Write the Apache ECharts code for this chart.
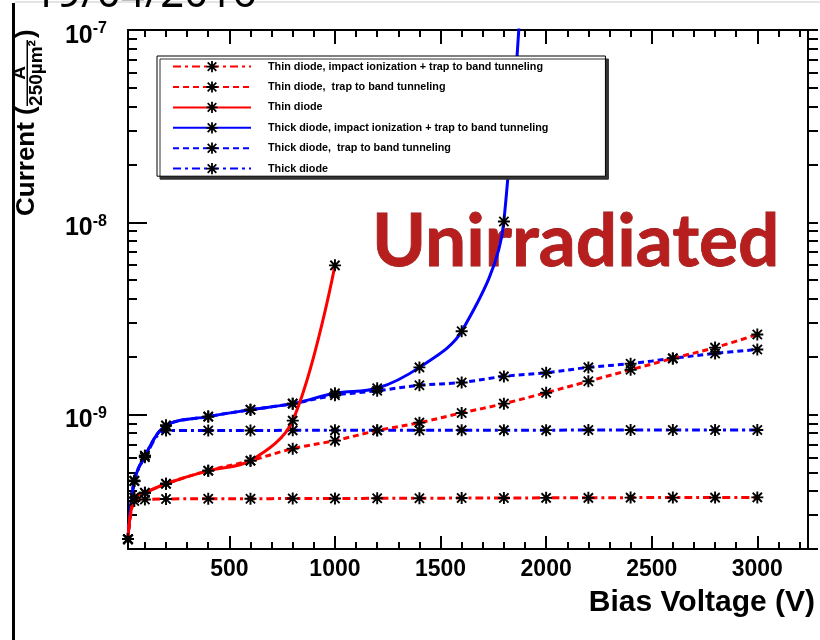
<!DOCTYPE html>
<html>
<head>
<meta charset="utf-8">
<script src="https://cdn.jsdelivr.net/npm/echarts@6/dist/echarts.min.js"></script>
<style>
  html, body { margin: 0; padding: 0; background: #fff; }
  #chart { width: 820px; height: 640px; }
</style>
</head>
<body>
<div id="chart"></div>
<script>
// bias voltage (V) of the simulated points
const volt = [20, 50, 100, 200, 400, 600, 800, 1000, 1200, 1400, 1600, 1800, 2000, 2200, 2400, 2600, 2800, 3000];

// current (A / 250um^2)
const thinIITTB = [2.25e-10, 3.55e-10, 3.62e-10, 3.64e-10, 3.65e-10, 3.65e-10, 3.66e-10, 3.66e-10, 3.67e-10,
                   3.67e-10, 3.68e-10, 3.68e-10, 3.69e-10, 3.69e-10, 3.7e-10, 3.7e-10, 3.7e-10, 3.71e-10];
const thinTTB = [2.25e-10, 3.7e-10, 3.92e-10, 4.37e-10, 5.11e-10, 5.76e-10, 6.65e-10, 7.32e-10, 8.26e-10,
                 9.08e-10, 1.02e-9, 1.14e-9, 1.30e-9, 1.49e-9, 1.71e-9, 1.96e-9, 2.23e-9, 2.61e-9];
const thinDiode = [2.25e-10, 3.7e-10, 3.92e-10, 4.37e-10, 5.11e-10, 5.76e-10, 9.3e-10, 5.97e-9];
// last point is off the top of the plot
const thickIITTB = [2.25e-10, 4.53e-10, 6.11e-10, 8.77e-10, 9.76e-10, 1.06e-9, 1.14e-9, 1.29e-9, 1.37e-9,
                    1.76e-9, 2.71e-9, 1.01e-8, 1e-4];
const thickTTB = [2.25e-10, 4.53e-10, 6.11e-10, 8.77e-10, 9.76e-10, 1.06e-9, 1.14e-9, 1.26e-9, 1.33e-9,
                  1.42e-9, 1.47e-9, 1.58e-9, 1.65e-9, 1.76e-9, 1.84e-9, 1.96e-9, 2.08e-9, 2.18e-9];
const thickDiode = [2.25e-10, 4.5e-10, 6.0e-10, 8.26e-10, 8.27e-10, 8.27e-10, 8.28e-10, 8.28e-10, 8.29e-10,
                    8.29e-10, 8.3e-10, 8.3e-10, 8.3e-10, 8.31e-10, 8.31e-10, 8.32e-10, 8.32e-10, 8.32e-10];

const names = [
  'Thin diode, impact ionization + trap to band tunneling',
  'Thin diode,  trap to band tunneling',
  'Thin diode',
  'Thick diode, impact ionization + trap to band tunneling',
  'Thick diode,  trap to band tunneling',
  'Thick diode'
];

// ticks
const xMajorTicks = [500, 1000, 1500, 2000, 2500, 3000];
const xMinorTicks = [100, 200, 300, 400, 600, 700, 800, 900, 1100, 1200, 1300, 1400, 1600, 1700, 1800, 1900,
                     2100, 2200, 2300, 2400, 2600, 2700, 2800, 2900, 3100, 3200];
const yMajorTicks = [1e-9, 1e-8, 1e-7];
const yMinorTicks = [2e-10, 3e-10, 4e-10, 5e-10, 6e-10, 7e-10, 8e-10, 9e-10,
                     2e-9, 3e-9, 4e-9, 5e-9, 6e-9, 7e-9, 8e-9, 9e-9,
                     2e-8, 3e-8, 4e-8, 5e-8, 6e-8, 7e-8, 8e-8, 9e-8];

const FONT = '"Liberation Sans", Arial, sans-serif';
// asterisk marker
const STAR = 'path://M0 4.2H10V5.8H0Z M4.2 0H5.8V10H4.2Z M0.6 1.7L1.7 0.6L9.4 8.3L8.3 9.4Z M8.3 0.6L9.4 1.7L1.7 9.4L0.6 8.3Z';

function pairs(vals) {
  return vals.map((v, i) => [volt[i], v]);
}

function mkSeries(idx, vals, color, dash, z) {
  return {
    name: names[idx],
    type: 'line',
    data: pairs(vals),
    smooth: 0.35,
    symbol: STAR,
    symbolSize: 12,
    showAllSymbol: true,
    z: z,
    itemStyle: { color: '#000' },
    lineStyle: { color: color, width: 3, type: dash }
  };
}

const DASH = [6, 4];
const DASHDOT = [8, 4, 3, 4];

function xAx(pos, ticks, len, line, labels) {
  return {
    type: 'value', position: pos, min: 20, max: 3240,
    axisLine: { show: line, onZero: false, lineStyle: { color: '#000', width: 2 } },
    axisTick: { show: true, inside: true, length: len, customValues: ticks, lineStyle: { color: '#000', width: 2 } },
    axisLabel: labels ? {
      show: true, customValues: xMajorTicks, margin: 9,
      formatter: v => String(v),
      color: '#000', fontFamily: FONT, fontWeight: 'bold', fontSize: 23
    } : { show: false },
    splitLine: { show: false }
  };
}

function yAx(pos, ticks, len, inside, line, labels) {
  return {
    type: 'log', position: pos, min: 2e-10, max: 1e-7, offset: 0,
    axisLine: { show: line, lineStyle: { color: '#000', width: 2 } },
    axisTick: { show: true, inside: inside, length: len, customValues: ticks, lineStyle: { color: '#000', width: 2 } },
    axisLabel: labels ? {
      show: true, customValues: yMajorTicks, margin: 21, padding: [12, 0, 0, 0],
      formatter: function (v) {
        return '{b|10}{s|' + Math.round(Math.log10(v)) + '}';
      },
      rich: {
        b: { fontFamily: FONT, fontWeight: 'bold', fontSize: 25, lineHeight: 30, color: '#000' },
        s: { fontFamily: FONT, fontWeight: 'bold', fontSize: 16, lineHeight: 16, color: '#000', verticalAlign: 'top' }
      }
    } : { show: false },
    splitLine: { show: false }
  };
}

const chart = echarts.init(document.getElementById('chart'));
chart.setOption({
  animation: false,
  backgroundColor: '#fff',
  grid: { left: 128, right: 12, top: 30, bottom: 91 },
  xAxis: [
    Object.assign(xAx('bottom', xMajorTicks, 13, true, true), {
      name: 'Bias Voltage (V)', nameLocation: 'end', nameGap: 7,
      nameTextStyle: { fontFamily: FONT, fontWeight: 'bold', fontSize: 30, color: '#000',
        align: 'right', verticalAlign: 'top', padding: [39, 0, 0, 0] }
    }),
    xAx('bottom', xMinorTicks, 7, false, false),
    xAx('top', xMajorTicks, 14, true, false),
    xAx('top', xMinorTicks, 7, false, false)
  ],
  yAxis: [
    yAx('left', yMajorTicks, 19, true, true, true),
    yAx('left', yMinorTicks, 9, true, false, false),
    yAx('right', yMajorTicks, 10, false, true, false),
    yAx('right', yMinorTicks, 10, false, false, false)
  ],
  legend: {
    orient: 'vertical', left: 157, top: 56,
    data: names,
    selectedMode: false,
    itemWidth: 78, itemHeight: 14, itemGap: 9.2,
    padding: [5, 57, 2, 15],
    backgroundColor: '#fff', borderColor: '#000', borderWidth: 1,
    shadowColor: '#333', shadowBlur: 0, shadowOffsetX: 3, shadowOffsetY: 3,
    textStyle: { fontFamily: FONT, fontWeight: 'bold', fontSize: 10.8, color: '#000', padding: [0, 0, 0, 12] }
  },
  graphic: [
    { type: 'rect', shape: { x: 12, y: 3, width: 3, height: 640 }, style: { fill: '#000' }, z: 10 },
    { type: 'rect', shape: { x: 15, y: 1, width: 805, height: 2 }, style: { fill: '#e4e4e4' }, z: 10 },
    { type: 'text', x: 33, y: -5, z: 10,
      style: { text: '19/04/2016', font: '42px "Noto Sans", sans-serif', fill: '#000', verticalAlign: 'middle' } },
    { type: 'text', x: 372, y: 242, z: 0,
      style: { text: 'Unirradiated', font: 'bold 73px Lato, "Open Sans", sans-serif', verticalAlign: 'middle',
        fill: '#b71e1e', stroke: '#8e1212', lineWidth: 0.8,
        shadowColor: 'rgba(0,0,0,0.3)', shadowBlur: 2, shadowOffsetX: 1, shadowOffsetY: 1 } },
    { type: 'group', x: 36, y: 216, rotation: Math.PI / 2, z: 10,
      children: [
        { type: 'text', x: 0, y: -9,
          style: { text: 'Current (', font: 'bold 26px ' + FONT, fill: '#000', verticalAlign: 'middle' } },
        { type: 'text', x: 143, y: -16,
          style: { text: 'A', font: 'bold 19px ' + FONT, fill: '#000', align: 'center', verticalAlign: 'middle' } },
        { type: 'rect', shape: { x: 110, y: -9.5, width: 66, height: 1.5 }, style: { fill: '#000' } },
        { type: 'text', x: 143, y: 1,
          style: { text: '250µm²', font: 'bold 19px ' + FONT, fill: '#000', align: 'center', verticalAlign: 'middle' } },
        { type: 'text', x: 178, y: -9,
          style: { text: ')', font: 'bold 26px ' + FONT, fill: '#000', verticalAlign: 'middle' } }
      ] }
  ],
  series: [
    mkSeries(5, thickDiode, '#0000ff', DASHDOT, 2),
    mkSeries(4, thickTTB, '#0000ff', DASH, 2),
    mkSeries(3, thickIITTB, '#0000ff', 'solid', 2),
    mkSeries(0, thinIITTB, '#ff0000', DASHDOT, 3),
    mkSeries(1, thinTTB, '#ff0000', DASH, 3),
    mkSeries(2, thinDiode, '#ff0000', 'solid', 3)
  ]
});
</script>
</body>
</html>
